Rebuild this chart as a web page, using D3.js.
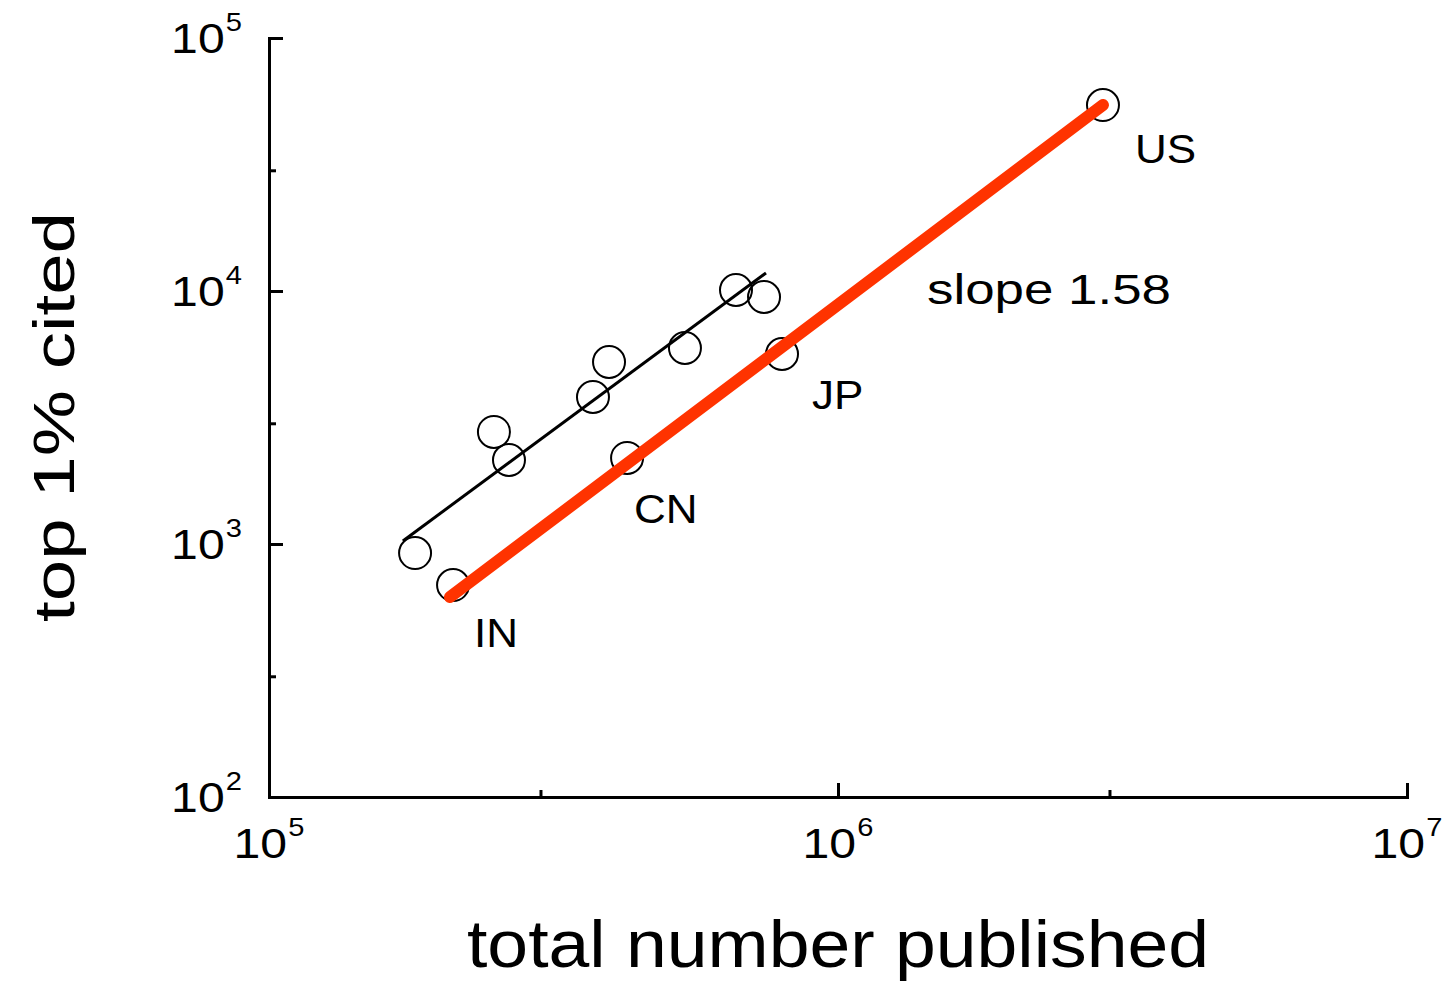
<!DOCTYPE html>
<html>
<head>
<meta charset="utf-8">
<script src="https://cdn.jsdelivr.net/npm/d3@7"></script>
<style>
  html, body { margin: 0; padding: 0; background: #fff; }
  svg { display: block; font-family: "Liberation Sans", Arial, sans-serif; }
</style>
</head>
<body>
<svg id="chart" width="1449" height="983"></svg>
<script>
// Papers per country: total published vs. number in the top 1% cited
const totalPublished = [180600, 210600, 248500, 264100, 371000, 395900, 425900, 538300, 661800, 741300, 797300, 2922000];
const topCited       = [921, 688, 2772, 2148, 3811, 5240, 2188, 5953, 10090, 9470, 5636, 54330];
const countryCodes   = ["", "IN", "", "", "", "", "CN", "", "", "", "JP", "US"];

// Fitted power-law lines (endpoints in data units)
const blackFitX = [171900, 747200];
const blackFitY = [1028, 11780];
const redFitX   = [208000, 2922000];
const redFitY   = [617, 54330];
const slopeText = "slope 1.58";

// Axis ticks (decades labelled, 3x marks unlabelled)
const xMajorExp = [5, 6, 7];
const yMajorExp = [2, 3, 4, 5];
const xMinor = [3e5, 3e6];
const yMinor = [3e2, 3e3, 3e4];

const xTitle = "total number published";
const yTitle = "top 1% cited";

// ---- layout ----
const plotLeft = 269, plotRight = 1407, plotTop = 38, plotBottom = 797;
const svg = d3.select("#chart");

const x = d3.scaleLog().domain([1e5, 1e7]).range([plotLeft, plotRight]);
const y = d3.scaleLog().domain([1e2, 1e5]).range([plotBottom, plotTop]);

const xMajor = xMajorExp.map(e => Math.pow(10, e));
const yMajor = yMajorExp.map(e => Math.pow(10, e));

function styleAxis(g) {
  g.selectAll("path.domain").attr("stroke", "#000").attr("stroke-width", 3).attr("fill", "none");
  g.selectAll(".tick line").attr("stroke", "#000").attr("stroke-width", 3);
  g.selectAll(".tick text").remove();
}

// major ticks + axis lines (ticks point inward)
const gx = svg.append("g").attr("transform", `translate(0,${plotBottom})`)
  .call(d3.axisBottom(x).tickValues(xMajor).tickSize(-14).tickSizeOuter(-14).tickFormat(""));
styleAxis(gx);
const gy = svg.append("g").attr("transform", `translate(${plotLeft},0)`)
  .call(d3.axisLeft(y).tickValues(yMajor).tickSize(-14).tickSizeOuter(-14).tickFormat(""));
styleAxis(gy);

// minor ticks
const gxm = svg.append("g").attr("transform", `translate(0,${plotBottom})`)
  .call(d3.axisBottom(x).tickValues(xMinor).tickSize(-7).tickSizeOuter(0).tickFormat(""));
styleAxis(gxm);
gxm.select("path.domain").remove();
const gym = svg.append("g").attr("transform", `translate(${plotLeft},0)`)
  .call(d3.axisLeft(y).tickValues(yMinor).tickSize(-7).tickSizeOuter(0).tickFormat(""));
styleAxis(gym);
gym.select("path.domain").remove();

// power-of-ten tick labels
function powerLabel(px, py, exp, anchor) {
  const t = svg.append("text")
    .attr("text-anchor", anchor)
    .attr("transform", `translate(${px},${py}) scale(1.12,1)`)
    .attr("fill", "#000");
  t.append("tspan").attr("font-size", 43).text("10");
  t.append("tspan").attr("font-size", 26).attr("dy", -22).attr("dx", 1).text(exp);
}
xMajorExp.forEach(e => powerLabel(x(Math.pow(10, e)), plotBottom + 61, e, "middle"));
yMajorExp.forEach(e => powerLabel(plotLeft - 27, y(Math.pow(10, e)) + 15, e, "end"));

// markers
const pts = totalPublished.map((v, i) => ({ px: v, py: topCited[i], code: countryCodes[i] }));
svg.append("g").selectAll("circle").data(pts).join("circle")
  .attr("cx", d => x(d.px)).attr("cy", d => y(d.py)).attr("r", 16)
  .attr("fill", "none").attr("stroke", "#000").attr("stroke-width", 2);

// fit lines
const line = d3.line().x(d => x(d[0])).y(d => y(d[1]));
svg.append("path").datum(blackFitX.map((v, i) => [v, blackFitY[i]]))
  .attr("d", line).attr("fill", "none").attr("stroke", "#000").attr("stroke-width", 3);
svg.append("path").datum(redFitX.map((v, i) => [v, redFitY[i]]))
  .attr("d", line).attr("fill", "none").attr("stroke", "#ff3300")
  .attr("stroke-width", 12).attr("stroke-linecap", "round");

// country labels, offset below-right of their marker
const labelOffset = { IN: [21, 62], CN: [7, 65], JP: [30, 55], US: [32, 58] };
svg.append("g").selectAll("text").data(pts.filter(d => d.code)).join("text")
  .attr("transform", d => `translate(${x(d.px) + labelOffset[d.code][0]},${y(d.py) + labelOffset[d.code][1]}) scale(1.1,1)`)
  .attr("font-size", 40).attr("fill", "#000").text(d => d.code);

// slope annotation
svg.append("text")
  .attr("x", 927).attr("y", 304)
  .attr("font-size", 43).attr("textLength", 244).attr("lengthAdjust", "spacingAndGlyphs")
  .attr("fill", "#000").text(slopeText);

// axis titles
svg.append("text")
  .attr("x", 467).attr("y", 967)
  .attr("font-size", 66).attr("textLength", 742).attr("lengthAdjust", "spacingAndGlyphs")
  .attr("fill", "#000").text(xTitle);
svg.append("text")
  .attr("transform", "translate(74,622) rotate(-90)")
  .attr("font-size", 58).attr("textLength", 410).attr("lengthAdjust", "spacingAndGlyphs")
  .attr("fill", "#000").text(yTitle);
</script>
</body>
</html>
